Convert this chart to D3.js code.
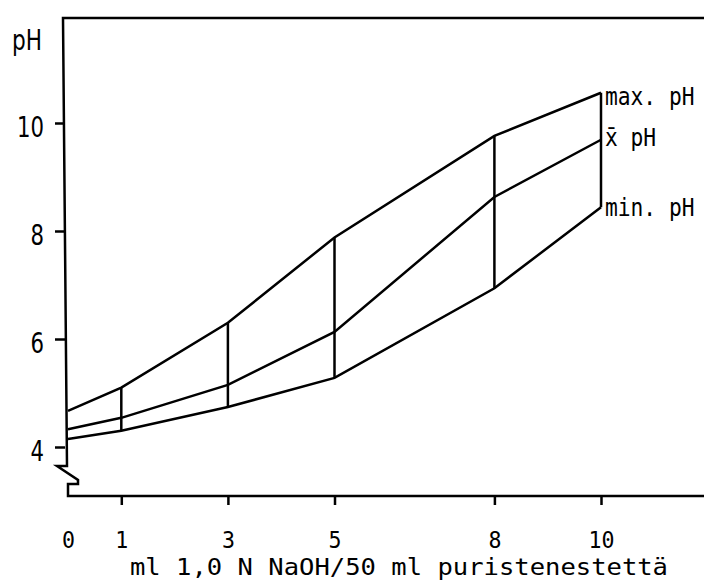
<!DOCTYPE html>
<html>
<head>
<meta charset="utf-8">
<script src="https://cdn.jsdelivr.net/npm/d3@7"></script>
<style>
  body { margin: 0; background: #fff; }
  svg text { fill: #000; }
</style>
</head>
<body>
<div id="container"></div>
<script>
/* ---------- DATA ---------- */
const naoh = [0, 1, 3, 5, 8, 10];            // ml 1,0 N NaOH / 50 ml
const maxPH = [4.67, 5.1, 6.3, 7.88, 9.76, 10.56];
const meanPH = [4.33, 4.54, 5.15, 6.13, 8.63, 9.69];
const minPH = [4.15, 4.3, 4.74, 5.28, 6.94, 8.44];
const xTicks = [0, 1, 3, 5, 8, 10];
const yTicks = [4, 6, 8, 10];

/* ---------- CONSTANTS ---------- */
const width = 704,
  height = 585,
  axisY = 496,
  sansFont = "'DejaVu Sans Condensed', 'Liberation Sans Narrow', sans-serif",
  monoFont = "'DejaVu Sans Mono', 'Liberation Mono', monospace";

const svg = d3.select("#container")
  .append("svg")
  .attr("width", width)
  .attr("height", height);

// + SCALES
const xScale = d3.scaleLinear().domain([0, 10]).range([68, 601]);
const yScale = d3.scaleLinear().domain([4, 10]).range([447, 123]);

// + FRAME (top line, left axis with break, bottom axis)
const frame = [
  [704, 18], [63, 18], [67, 466], [57, 466], [78, 480],
  [78, 484], [68, 484], [68, axisY], [704, axisY]
];
svg.append("path")
  .attr("d", d3.line()(frame))
  .attr("fill", "none")
  .attr("stroke", "#000")
  .attr("stroke-width", 2.5)
  .attr("stroke-linejoin", "miter");

// + AXES
const yAxis = d3.axisLeft(yScale)
  .tickValues(yTicks)
  .tickSize(10)
  .tickPadding(11)
  .tickFormat(d3.format("d"));

svg.append("g")
  .attr("transform", "translate(65,0)")
  .call(yAxis)
  .call(g => g.select(".domain").remove())
  .call(g => g.selectAll("line").attr("stroke-width", 2.5))
  .call(g => g.selectAll("text")
    .attr("font-family", sansFont)
    .attr("font-size", 29)
    .attr("dy", "0.48em")
    .attr("textLength", d => String(d).length * 13.5)
    .attr("lengthAdjust", "spacingAndGlyphs"));

const xAxis = d3.axisBottom(xScale)
  .tickValues(xTicks)
  .tickSize(9)
  .tickPadding(27)
  .tickFormat(d3.format("d"));

svg.append("g")
  .attr("transform", `translate(0,${axisY})`)
  .call(xAxis)
  .call(g => g.select(".domain").remove())
  .call(g => g.selectAll("line")
    .attr("stroke-width", 2.5)
    .attr("opacity", d => d === 0 ? 0 : 1))
  .call(g => g.selectAll("text")
    .attr("font-family", monoFont)
    .attr("font-size", 23)
    .attr("textLength", d => String(d).length * 13)
    .attr("lengthAdjust", "spacingAndGlyphs"));

svg.append("text")
  .attr("x", 12)
  .attr("y", 50)
  .attr("font-family", sansFont)
  .attr("font-size", 29)
  .attr("textLength", 30)
  .attr("lengthAdjust", "spacingAndGlyphs")
  .text("pH");

svg.append("text")
  .attr("x", 130)
  .attr("y", 575)
  .attr("font-family", monoFont)
  .attr("font-size", 23)
  .attr("textLength", 538)
  .attr("lengthAdjust", "spacingAndGlyphs")
  .text("ml 1,0 N NaOH/50 ml puristenestettä");

// + SERIES LINES
const line = d3.line()
  .x((d, i) => xScale(naoh[i]))
  .y(d => yScale(d));

const series = [
  { name: "max. pH", values: maxPH, labelY: 105 },
  { name: "x\u0304 pH", values: meanPH, labelY: 146 },
  { name: "min. pH", values: minPH, labelY: 216 }
];

svg.selectAll("path.series")
  .data(series)
  .join("path")
  .attr("class", "series")
  .attr("d", d => line(d.values))
  .attr("fill", "none")
  .attr("stroke", "#000")
  .attr("stroke-width", 2.5);

// vertical range bars
svg.selectAll("line.range")
  .data(naoh.map((v, i) => ({ x: v, lo: minPH[i], hi: maxPH[i] })).filter(d => d.x > 0))
  .join("line")
  .attr("class", "range")
  .attr("x1", d => xScale(d.x))
  .attr("x2", d => xScale(d.x))
  .attr("y1", d => yScale(d.lo))
  .attr("y2", d => yScale(d.hi))
  .attr("stroke", "#000")
  .attr("stroke-width", 2.5);

// series labels (condensed mono, squeezed horizontally)
svg.selectAll("text.serieslabel")
  .data(series)
  .join("text")
  .attr("class", "serieslabel")
  .attr("transform", d => `translate(605,${d.labelY}) scale(0.85,1)`)
  .attr("font-family", monoFont)
  .attr("font-size", 25)
  .text(d => d.name);
</script>
</body>
</html>
